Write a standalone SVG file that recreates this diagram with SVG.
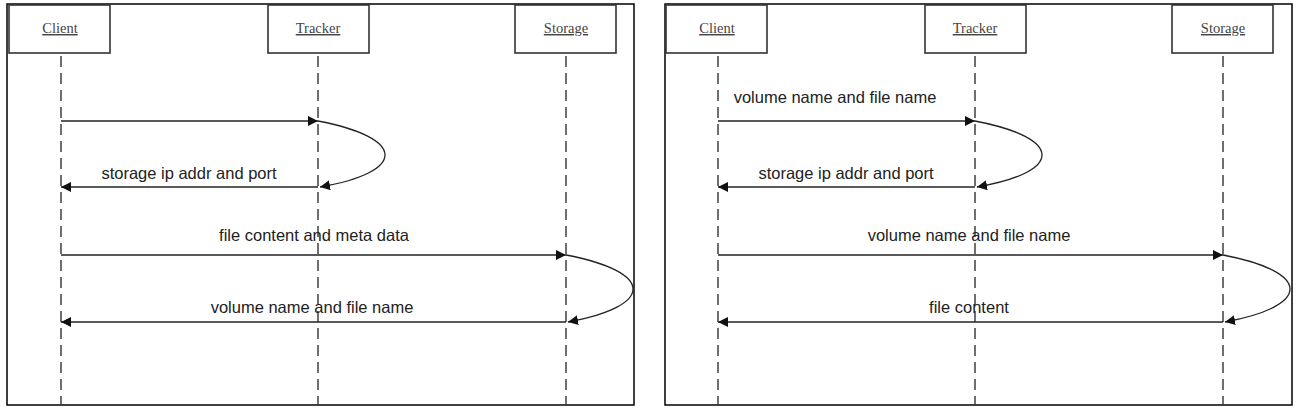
<svg xmlns="http://www.w3.org/2000/svg" width="1300" height="411" viewBox="0 0 1300 411">
<style>
.frame{fill:#fff;stroke:#000;stroke-width:1.5}
.box{fill:#fff;stroke:#333;stroke-width:1.6}
.lbl{font-family:"Liberation Serif",serif;font-size:14.5px;fill:#444;text-anchor:middle;text-decoration:underline}
.life{stroke:#333;stroke-width:1.4;stroke-dasharray:11,6;fill:none}
.msg{stroke:#222;stroke-width:1.3;fill:none;marker-end:url(#ah)}
.txt{font-family:"Liberation Sans",Arial,sans-serif;font-size:16.5px;fill:#222;text-anchor:middle}
</style>
<defs>
<marker id="ah" viewBox="0 0 10 10" refX="10" refY="5" markerWidth="10" markerHeight="10" markerUnits="userSpaceOnUse" orient="auto">
<path d="M0,0 L10,5 L0,10 z" fill="#111"/>
</marker>
</defs>
<rect width="1300" height="411" fill="#fff"/>
<rect class="frame" x="7" y="4" width="627" height="401"/>
<rect class="frame" x="665" y="4" width="627" height="401"/>

<g id="lifelines">
<line class="life" x1="61" y1="56" x2="61" y2="405"/>
<line class="life" x1="318" y1="56" x2="318" y2="405"/>
<line class="life" x1="566" y1="56" x2="566" y2="405"/>
<line class="life" x1="718" y1="56" x2="718" y2="405"/>
<line class="life" x1="975" y1="56" x2="975" y2="405"/>
<line class="life" x1="1223" y1="56" x2="1223" y2="405"/>
</g>

<g id="client1"><rect class="box" x="9" y="5" width="101" height="48"/><text class="lbl" x="60" y="33">Client</text></g>
<g id="tracker1"><rect class="box" x="268" y="5" width="101" height="48"/><text class="lbl" x="318" y="33">Tracker</text></g>
<g id="storage1"><rect class="box" x="515" y="5" width="101" height="48"/><text class="lbl" x="566" y="33">Storage</text></g>
<g id="client2"><rect class="box" x="666" y="5" width="101" height="48"/><text class="lbl" x="717" y="33">Client</text></g>
<g id="tracker2"><rect class="box" x="925" y="5" width="101" height="48"/><text class="lbl" x="975" y="33">Tracker</text></g>
<g id="storage2"><rect class="box" x="1172" y="5" width="101" height="48"/><text class="lbl" x="1223" y="33">Storage</text></g>

<g id="connectors">
<line class="msg" x1="61" y1="121" x2="318" y2="121"/>
<path class="msg" d="M318,121 C407,138 407,172 320,187"/>
<line class="msg" x1="318" y1="187" x2="61" y2="187"/>
<line class="msg" x1="61" y1="255" x2="566" y2="255"/>
<path class="msg" d="M566,255 C655,272 655,306 568,322"/>
<line class="msg" x1="566" y1="322" x2="61" y2="322"/>

<line class="msg" x1="718" y1="121" x2="975" y2="121"/>
<path class="msg" d="M975,121 C1064,138 1064,172 977,187"/>
<line class="msg" x1="975" y1="187" x2="718" y2="187"/>
<line class="msg" x1="718" y1="255" x2="1223" y2="255"/>
<path class="msg" d="M1223,255 C1312,272 1312,306 1225,322"/>
<line class="msg" x1="1223" y1="322" x2="718" y2="322"/>
</g>

<g id="labels">
<text class="txt" x="189" y="179">storage ip addr and port</text>
<text class="txt" x="314" y="241">file content and meta data</text>
<text class="txt" x="312" y="313">volume name and file name</text>
<text class="txt" x="835" y="103">volume name and file name</text>
<text class="txt" x="846" y="179">storage ip addr and port</text>
<text class="txt" x="969" y="241">volume name and file name</text>
<text class="txt" x="969" y="313">file content</text>
</g>
</svg>
